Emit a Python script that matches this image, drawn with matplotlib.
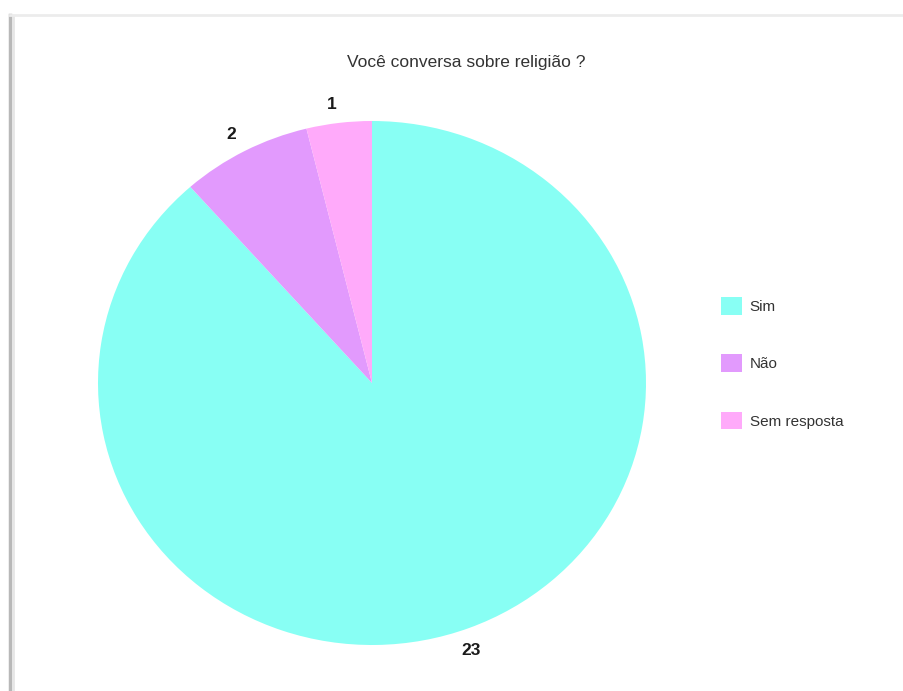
import matplotlib.pyplot as plt
from matplotlib.lines import Line2D

plt.rcParams['font.family'] = ['Liberation Sans', 'DejaVu Sans']

title = 'Você conversa sobre religião ?'
labels = ['Sim', 'Não', 'Sem resposta']
values = [23, 2, 1]
colors = ['#88fff4', '#e29afd', '#ffaafa']

W, H = 904, 691
fig = plt.figure(figsize=(W / 100, H / 100), dpi=100)

# card frame (left shadow edge, faint top edge)
fig.add_artist(Line2D([10 / W, 10 / W], [0, 1 - 15 / H], color='#b8b8b8', lw=2.5))
fig.add_artist(Line2D([13 / W, 13 / W], [0, 1 - 17 / H], color='#e6e6e6', lw=2))
fig.add_artist(Line2D([10 / W, 1], [1 - 15 / H, 1 - 15 / H], color='#ececec', lw=2))

# pie centre and radii in pixels
cx, cy = 372, H - 383
rx, ry = 274, 262
half = 300
ax = fig.add_axes([(cx - half) / W, (cy - half) / H, 2 * half / W, 2 * half / H])
wedges, texts = ax.pie(values, colors=colors, startangle=90, counterclock=False,
                       labels=[str(v) for v in values], labeldistance=1.07,
                       textprops=dict(fontsize=12.5, fontweight='bold', color='#1a1a1a'))
ax.set_aspect('auto')
ax.set_xlim(-half / rx, half / rx)
ax.set_ylim(-half / ry, half / ry)
# the big slice's count sits a bit closer to the bottom in the original
x, y = texts[0].get_position()
texts[0].set_position((x * 0.86, y * 1.02))

fig.text(466 / W, 1 - 63 / H, title, ha='center', va='center', fontsize=12.5, color='#333333')

fig.legend(wedges, labels, loc='upper left', bbox_to_anchor=(721 / W, 1 - 297 / H),
           frameon=False, fontsize=11, handlelength=1.38, handleheight=1.4,
           handletextpad=0.5, labelspacing=2.6, borderpad=0, borderaxespad=0,
           labelcolor='#333333')

fig.savefig('out.png', dpi=100)
